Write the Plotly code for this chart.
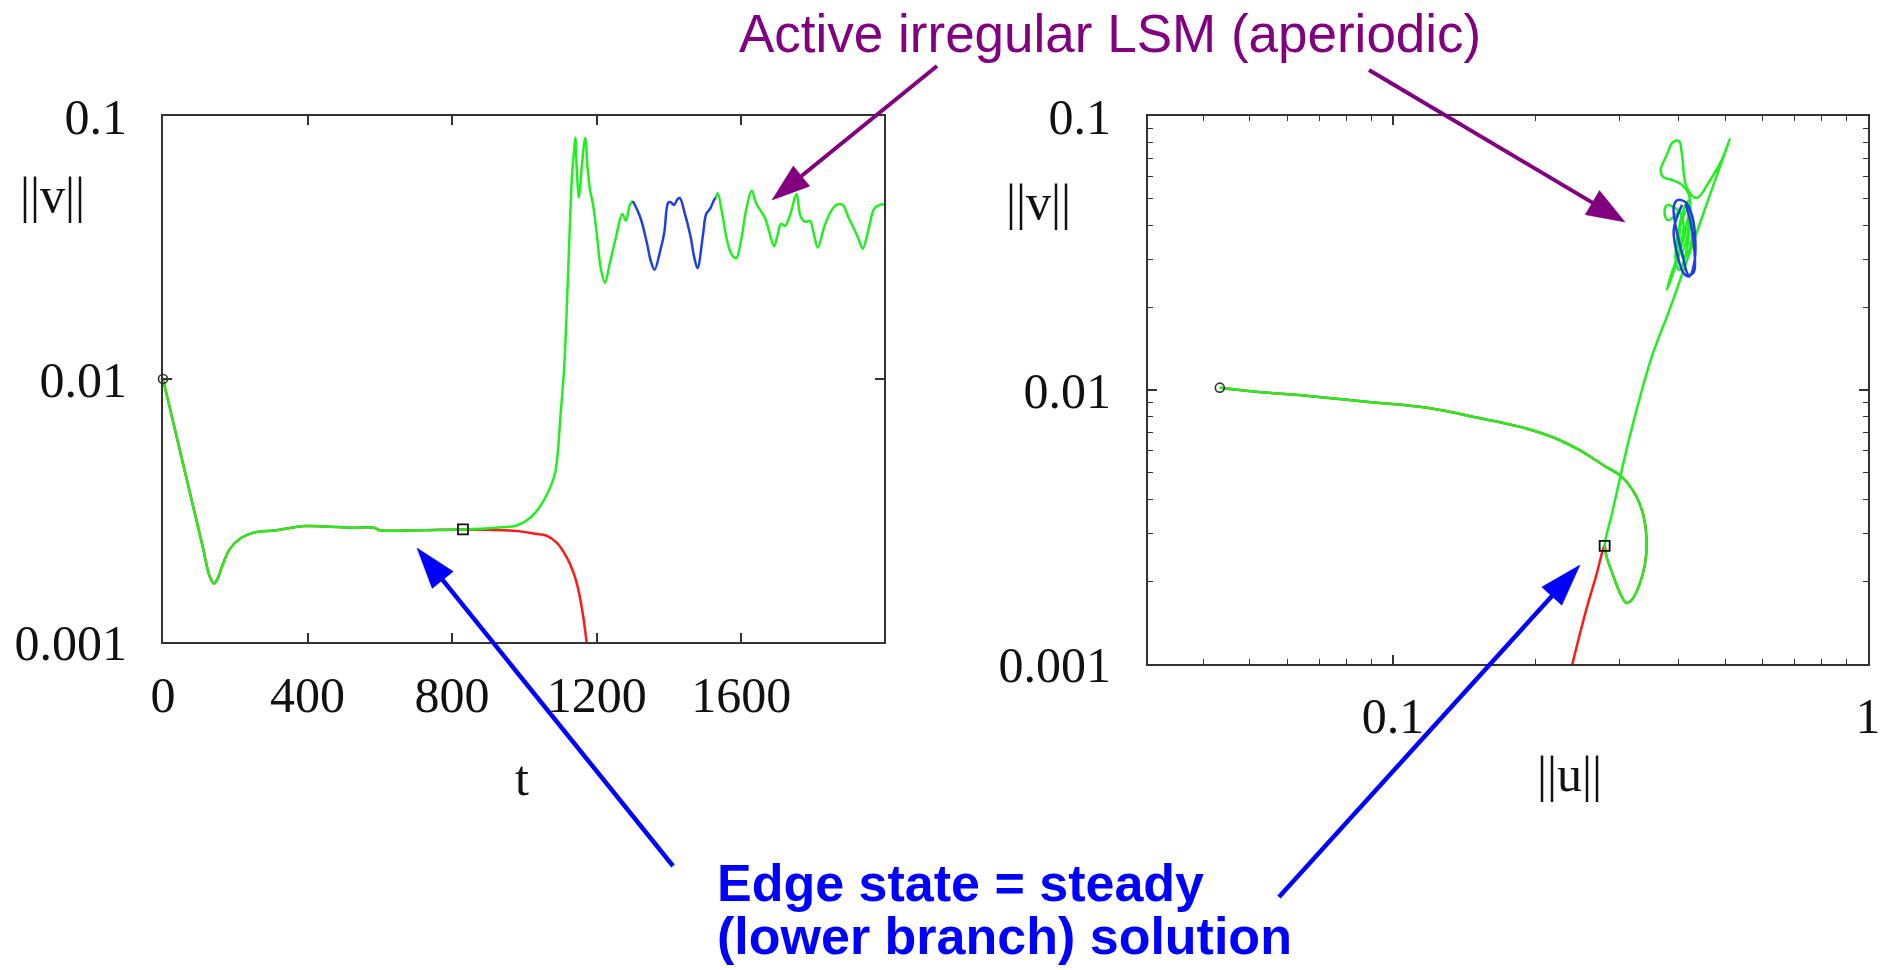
import math
import plotly.graph_objects as go

W, H = 1891, 970

# ---------------- ||v|| as a function of time ----------------
# approach to the edge state (shared by both trajectories)
edge_t = [0, 40, 80, 110, 129, 141, 152, 161, 185, 217, 249, 313, 392, 450, 520, 583, 600, 700, 830]
edge_v = [0.0100, 0.00586, 0.00343, 0.0023, 0.00178, 0.00167, 0.00175, 0.0019, 0.00226, 0.00249,
          0.0026, 0.00266, 0.00276, 0.00275, 0.00272, 0.00272, 0.00266, 0.00266, 0.00268]
# decay back to the laminar state
lam_t = [830, 900, 981, 1030, 1060, 1090, 1116, 1135, 1148, 1162, 1172, 1185]
lam_v = [0.00268, 0.00267, 0.00264, 0.00258, 0.00254, 0.00238, 0.00211, 0.00185, 0.00161, 0.00127, 0.00100, 0.00072]
# transition to the active state
burst_t = [920, 981, 1020, 1045, 1065, 1085, 1100, 1110, 1116, 1124, 1132, 1138, 1141, 1145, 1151,
           1157, 1165, 1169, 1174, 1182, 1190, 1200, 1212, 1223, 1235, 1252, 1271, 1281, 1292, 1300]
burst_v = [0.00272, 0.00278, 0.0030, 0.0033, 0.0037, 0.0044, 0.0073, 0.011, 0.0168, 0.033, 0.060, 0.075,
           0.0826, 0.062, 0.049, 0.060, 0.078, 0.0826, 0.065, 0.052, 0.046, 0.036, 0.026, 0.0232, 0.027,
           0.034, 0.0424, 0.040, 0.046, 0.0475]
# irregular large-scale motion segment
lsm_t = [1300, 1312, 1323, 1339, 1350, 1360, 1376, 1387, 1398, 1405, 1414, 1424, 1430, 1443, 1459,
         1470, 1479, 1494, 1503, 1514, 1525, 1530]
lsm_v = [0.0475, 0.044, 0.0403, 0.0329, 0.028, 0.026, 0.0308, 0.036, 0.0468, 0.047, 0.0459, 0.0483,
         0.0488, 0.043, 0.0352, 0.029, 0.0264, 0.0352, 0.0424, 0.0444, 0.048, 0.049]
# remainder of the active state
late_t = [1530, 1535, 1548, 1560, 1572, 1586, 1600, 1615, 1629, 1640, 1650, 1666, 1678, 1691, 1700,
          1710, 1721, 1735, 1753, 1764, 1777, 1790, 1800, 1812, 1830, 1849, 1865, 1881, 1897, 1913,
          1925, 1936, 1952, 1968, 1985, 1995]
late_v = [0.049, 0.0508, 0.042, 0.034, 0.030, 0.0288, 0.034, 0.045, 0.0521, 0.047, 0.0444, 0.0409,
          0.036, 0.032, 0.035, 0.0389, 0.0382, 0.042, 0.0505, 0.0416, 0.0396, 0.0399, 0.036, 0.0316,
          0.038, 0.0436, 0.046, 0.0459, 0.041, 0.037, 0.034, 0.0313, 0.037, 0.0444, 0.046, 0.0462]

# ---------------- phase plane ||v|| vs ||u|| ----------------
edge_u = [0.0432, 0.0521, 0.0665, 0.0889, 0.119, 0.152, 0.1845, 0.219, 0.2466, 0.279, 0.303, 0.324,
          0.3365, 0.342, 0.339, 0.330, 0.318, 0.310, 0.300, 0.288, 0.281, 0.279]
edge_uv = [0.0102, 0.00984, 0.0095, 0.00904, 0.0086, 0.0079, 0.00735, 0.00668, 0.00605, 0.00528,
           0.00483, 0.00414, 0.0035, 0.00284, 0.0023, 0.00194, 0.00171, 0.00167, 0.00183, 0.0022,
           0.0025, 0.0027]
lam_u = [0.279, 0.268, 0.255, 0.244, 0.235]
lam_uv = [0.0027, 0.00211, 0.00157, 0.00117, 0.0009]
burst_u = [0.290, 0.316, 0.350, 0.382, 0.421, 0.464, 0.512, 0.492, 0.465, 0.436, 0.415, 0.406, 0.400,
           0.388, 0.377, 0.366, 0.371, 0.388, 0.408, 0.421, 0.413, 0.394, 0.377, 0.385, 0.401, 0.409,
           0.401, 0.378, 0.373, 0.378, 0.394, 0.406]
burst_uv = [0.00362, 0.0069, 0.0131, 0.0196, 0.0316, 0.0511, 0.0825, 0.069, 0.0583, 0.0502, 0.0551,
            0.0721, 0.081, 0.080, 0.072, 0.0635, 0.0598, 0.0583, 0.0556, 0.0506, 0.0384, 0.0286,
            0.0232, 0.0263, 0.0324, 0.040, 0.0447, 0.0473, 0.0447, 0.0417, 0.0436, 0.0473]
lsm_u = [0.406, 0.390, 0.397, 0.409, 0.421, 0.431, 0.433, 0.426, 0.413, 0.397, 0.390, 0.395, 0.407,
         0.419, 0.430, 0.430, 0.421, 0.413]
lsm_uv = [0.0473, 0.0384, 0.0311, 0.0267, 0.026, 0.0293, 0.0352, 0.0435, 0.0485, 0.0493, 0.0466,
          0.0384, 0.0311, 0.0263, 0.027, 0.0338, 0.0425, 0.0477]
late_u = [0.413, 0.401, 0.394, 0.401, 0.417, 0.421, 0.409, 0.401, 0.409, 0.421, 0.426, 0.417, 0.405,
          0.398, 0.405, 0.417, 0.421]
late_uv = [0.0477, 0.040, 0.0293, 0.0274, 0.0338, 0.0493, 0.0454, 0.0353, 0.0303, 0.0326, 0.041,
           0.0454, 0.041, 0.034, 0.0316, 0.037, 0.044]

# ---------------- axis ticks ----------------
t_ticks = [0, 400, 800, 1200, 1600]
v_ticks = [0.001, 0.01, 0.1]
v_tick_text = ["0.001", "0.01", "0.1"]
u_ticks = [0.1, 1]
u_tick_text = ["0.1", "1"]
u_minor = [0.04, 0.05, 0.06, 0.07, 0.08, 0.09, 0.2, 0.3, 0.4, 0.5, 0.6, 0.7, 0.8, 0.9]
v_minor = [0.002, 0.003, 0.004, 0.005, 0.006, 0.007, 0.008, 0.009,
           0.02, 0.03, 0.04, 0.05, 0.06, 0.07, 0.08, 0.09]

RED = "#ff1a1a"
GREEN = "#22ee22"
BLUE = "#1f3fe0"
PURPLE = "#800080"
ARROW_BLUE = "#0000ff"
SERIF = "Liberation Serif, Times New Roman, serif"
SANS = "Liberation Sans, Arial, sans-serif"
LW = 2.5

fig = go.Figure()


def add_panel(xr, yr, x_edge, y_edge, x_lam, y_lam, x_burst, y_burst, x_lsm, y_lsm, x_late, y_late):
    common = dict(mode="lines", line_shape="spline", hoverinfo="skip", showlegend=False,
                  xaxis=xr, yaxis=yr)
    fig.add_trace(go.Scatter(x=x_edge + x_lam[1:], y=y_edge + y_lam[1:],
                             line=dict(color=RED, width=LW), **common))
    fig.add_trace(go.Scatter(x=x_edge + x_burst + [None] + x_late,
                             y=y_edge + y_burst + [None] + y_late,
                             line=dict(color=GREEN, width=LW), **common))
    fig.add_trace(go.Scatter(x=x_lsm, y=y_lsm, line=dict(color=BLUE, width=LW), **common))
    fig.add_trace(go.Scatter(x=[x_edge[0]], y=[y_edge[0]], mode="markers", cliponaxis=False,
                             marker=dict(symbol="circle-open", size=9, color="#333",
                                         line=dict(width=1.6)),
                             hoverinfo="skip", showlegend=False, xaxis=xr, yaxis=yr))
    fig.add_trace(go.Scatter(x=[x_edge[-1]], y=[y_edge[-1]], mode="markers", cliponaxis=False,
                             marker=dict(symbol="square-open", size=10, color="#111",
                                         line=dict(width=1.8)),
                             hoverinfo="skip", showlegend=False, xaxis=xr, yaxis=yr))


add_panel("x", "y", edge_t, edge_v, lam_t, lam_v, burst_t, burst_v, lsm_t, lsm_v, late_t, late_v)
add_panel("x2", "y2", edge_u, edge_uv, lam_u, lam_uv, burst_u, burst_uv, lsm_u, lsm_uv,
          late_u, late_uv)

axis_style = dict(showline=True, linewidth=2, linecolor="#333", mirror="ticks", ticks="inside",
                  ticklen=9, tickwidth=1.6, tickcolor="#333", showgrid=False, zeroline=False,
                  automargin=False, tickfont=dict(family=SERIF, size=50, color="#111"))
minor_style = dict(ticks="inside", ticklen=5, tickwidth=1.4, tickcolor="#333", showgrid=False)


def dom_x(a, b):
    return [a / W, b / W]


def dom_y(top, bottom):
    return [1 - bottom / H, 1 - top / H]


fig.update_layout(
    width=W, height=H, margin=dict(l=0, r=0, t=0, b=0, autoexpand=False),
    paper_bgcolor="white", plot_bgcolor="white",
    xaxis=dict(domain=dom_x(163, 884), range=[0, 1995], tickvals=t_ticks,
               ticklabelstandoff=8, anchor="y", **axis_style),
    yaxis=dict(domain=dom_y(116, 642), type="log", range=[-3, -1], tickvals=v_ticks,
               ticktext=v_tick_text, ticklabelstandoff=24, anchor="x", **axis_style),
    xaxis2=dict(domain=dom_x(1148, 1868), type="log", range=[math.log10(0.0305), 0],
                tickvals=u_ticks, ticktext=u_tick_text, ticklabelstandoff=7, anchor="y2",
                minor=dict(tickvals=u_minor, **minor_style), **axis_style),
    yaxis2=dict(domain=dom_y(116, 664), type="log", range=[-3, -1], tickvals=v_ticks,
                ticktext=v_tick_text, ticklabelstandoff=25, anchor="x2",
                minor=dict(tickvals=v_minor, **minor_style), **axis_style),
)


def paper(x, y):
    return x / W, 1 - y / H


annotations = []


def label(text, x, y, font, xanchor="center", yanchor="middle"):
    px, py = paper(x, y)
    annotations.append(dict(text=text, x=px, y=py, xref="paper", yref="paper", showarrow=False,
                            xanchor=xanchor, yanchor=yanchor, font=font, borderpad=0))


axis_font = dict(family=SERIF, size=50, color="#111")
label("||v||", 52, 195, axis_font)
label("||v||", 1038, 202, axis_font)
label("t", 522, 778, axis_font)
label("||u||", 1569, 774, axis_font)

label("Active irregular LSM (aperiodic)", 1110, 34, dict(family=SANS, size=53, color=PURPLE))
label("<b>Edge state = steady</b>", 716, 883, dict(family=SANS, size=52, color=ARROW_BLUE),
      xanchor="left")
label("<b>(lower branch) solution</b>", 716, 936, dict(family=SANS, size=52, color=ARROW_BLUE),
      xanchor="left")

shapes = []


def arrow(tail, tip, color, width, head_len, head_w):
    (x0, y0), (x1, y1) = tail, tip
    dx, dy = x1 - x0, y1 - y0
    n = math.hypot(dx, dy)
    ux, uy = dx / n, dy / n
    bx, by = x1 - ux * head_len, y1 - uy * head_len
    lx, ly = bx - uy * head_w / 2, by + ux * head_w / 2
    rx, ry = bx + uy * head_w / 2, by - ux * head_w / 2
    a, b = paper(x0, y0)
    c, d = paper(bx + ux * 4, by + uy * 4)
    shapes.append(dict(type="line", xref="paper", yref="paper", x0=a, y0=b, x1=c, y1=d,
                       line=dict(color=color, width=width), layer="above"))
    pts = [paper(x1, y1), paper(lx, ly), paper(rx, ry)]
    path = "M {} {} L {} {} L {} {} Z".format(*[v for p in pts for v in p])
    shapes.append(dict(type="path", xref="paper", yref="paper", path=path, fillcolor=color,
                       line=dict(color=color, width=0.5), layer="above"))


arrow((937, 66), (772, 200), PURPLE, 4, 38, 26)
arrow((1369, 70), (1625, 222), PURPLE, 4, 38, 28)
arrow((673, 866), (417, 548), ARROW_BLUE, 4.5, 41, 27)
arrow((1279, 897), (1580, 565), ARROW_BLUE, 4.5, 42, 27)

fig.update_layout(annotations=annotations, shapes=shapes)

fig.write_html("out.html")
